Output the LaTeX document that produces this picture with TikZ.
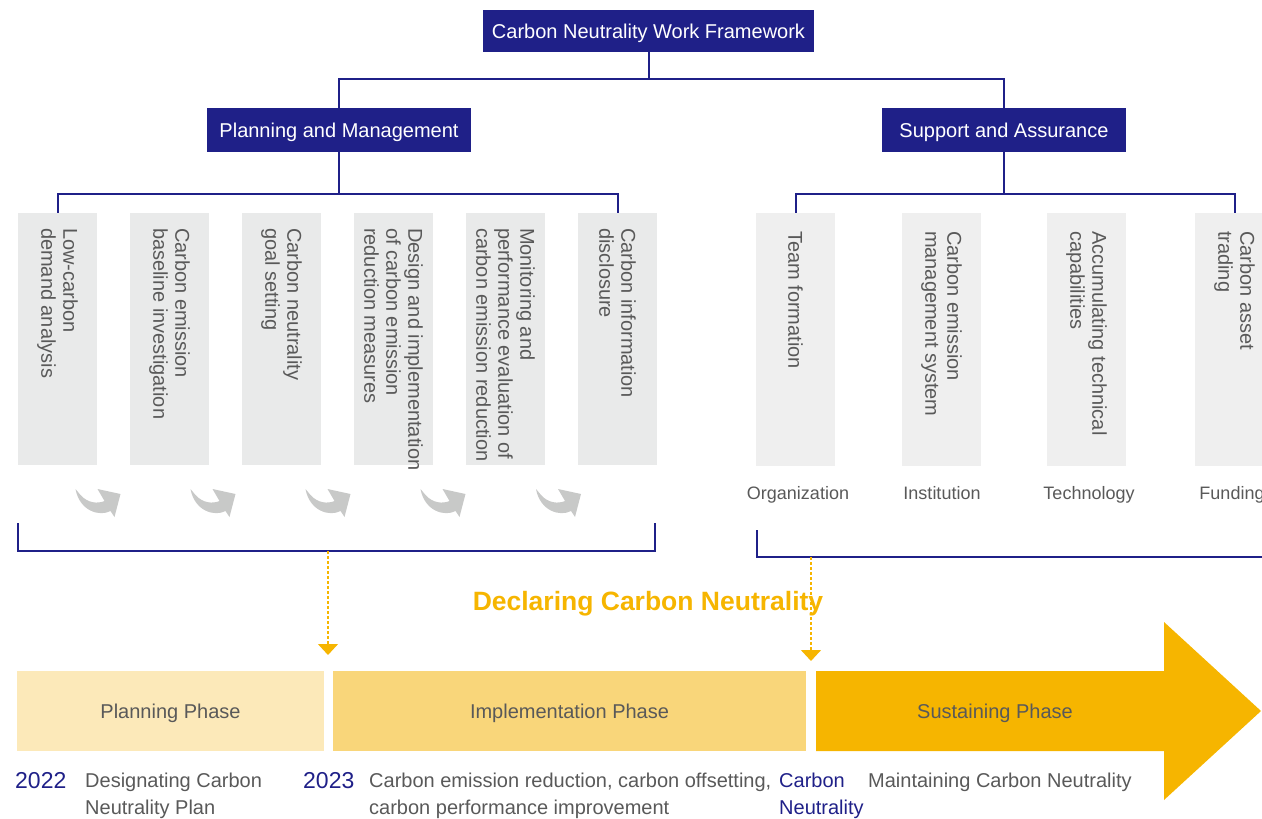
\documentclass[tikz,border=0pt]{standalone}
\usepackage{fontspec}
\setmainfont{Liberation Sans}
\usetikzlibrary{arrows.meta}

\definecolor{navy}{RGB}{31,32,136}
\definecolor{lboxgray}{RGB}{233,234,234}
\definecolor{rboxgray}{RGB}{239,239,239}
\definecolor{bendgray}{RGB}{200,201,200}
\definecolor{textgray}{RGB}{89,89,89}
\definecolor{phaseA}{RGB}{252,233,185}
\definecolor{phaseB}{RGB}{249,214,122}
\definecolor{phaseC}{RGB}{246,181,0}

\begin{document}
\begin{tikzpicture}[x=1pt, y=-1pt,
        headbox/.style={fill=navy, text=white, inner sep=0pt, text height=14.3pt, text depth=0pt, font=\fontsize{20}{24}\selectfont},
        lbox/.style={fill=lboxgray, minimum width=79pt, minimum height=252pt, inner sep=0pt},
        rbox/.style={fill=rboxgray, minimum width=79pt, minimum height=253pt, inner sep=0pt},
        vtext/.style={rotate=-90, anchor=west, align=left, inner sep=0pt, text=textgray, font=\fontsize{20}{22}\selectfont},
        lab/.style={anchor=base, text=textgray, inner sep=0pt, font=\fontsize{18}{22}\selectfont},
        phase/.style={minimum height=80pt, inner sep=0pt, text height=14.3pt, text depth=0pt, text=textgray, font=\fontsize{20}{24}\selectfont},
        yeartext/.style={anchor=base west, inner sep=0pt, text=navy, font=\fontsize{23}{27}\selectfont},
        desc/.style={anchor=north west, align=left, inner sep=0pt, text=textgray, font=\fontsize{20}{27}\selectfont},
        treeline/.style={draw=navy, line width=2pt},
        dashline/.style={draw=phaseC, line width=1.5pt, dash pattern=on 3pt off 2pt, -{Triangle[width=20pt,length=11pt]}}]
        \useasboundingbox (0,0) rectangle (1262,819);

        % framework tree
        \node[headbox, minimum width=331pt, minimum height=42pt] (top) at (648.5,31) {Carbon Neutrality Work Framework};
        \node[headbox, minimum width=264pt, minimum height=44pt] (pm) at (339,130) {Planning and Management};
        \node[headbox, minimum width=244pt, minimum height=44pt] (sa) at (1004,130) {Support and Assurance};

        \node[lbox] (b1) at (57.5,339) {};
        \node[lbox] (b2) at (169.5,339) {};
        \node[lbox] (b3) at (281.5,339) {};
        \node[lbox] (b4) at (393.5,339) {};
        \node[lbox] (b5) at (505.5,339) {};
        \node[lbox] (b6) at (617.5,339) {};
        \node[vtext] (t1) at ([yshift=-15pt]b1.north) {Low-carbon\\demand analysis};
        \node[vtext] (t2) at ([yshift=-15pt]b2.north) {Carbon emission\\baseline investigation};
        \node[vtext] (t3) at ([yshift=-15pt]b3.north) {Carbon neutrality\\goal setting};
        \node[vtext] (t4) at ([yshift=-15pt]b4.north) {Design and implementation\\of carbon emission\\reduction measures};
        \node[vtext] (t5) at ([yshift=-15pt]b5.north) {Monitoring and\\performance evaluation of\\carbon emission reduction};
        \node[vtext] (t6) at ([yshift=-15pt]b6.north) {Carbon information\\disclosure};

        \node[rbox] (r1) at (795.5,339.5) {};
        \node[rbox] (r2) at (941.5,339.5) {};
        \node[rbox] (r3) at (1086.5,339.5) {};
        \node[rbox] (r4) at (1234.5,339.5) {};
        \node[vtext] (s1) at ([yshift=-18pt]r1.north) {Team formation};
        \node[vtext] (s2) at ([yshift=-18pt]r2.north) {Carbon emission\\management system};
        \node[vtext] (s3) at ([yshift=-18pt]r3.north) {Accumulating technical\\capabilities};
        \node[vtext] (s4) at ([yshift=-18pt]r4.north) {Carbon asset\\trading};

        \node[lab] (l1) at (798,499) {Organization};
        \node[lab] (l2) at (942,499) {Institution};
        \node[lab] (l3) at (1089,499) {Technology};
        \node[lab] (l4) at (1232,499) {Funding};

        \draw[treeline] (top.south) -- ++(0,27) -| (pm.north);
        \draw[treeline] (top.south) -- ++(0,27) -| (sa.north);
        \draw[treeline] (pm.south) -- ++(0,42) -| (b1.north);
        \draw[treeline] (pm.south) -- ++(0,42) -| (b6.north);
        \draw[treeline] (sa.south) -- ++(0,42) -| (r1.north);
        \draw[treeline] (sa.south) -- ++(0,42) -| (r4.north);

        % step arrows between the planning boxes
        \foreach \ax in {75.5,190.5,305.5,420.5,536}
            \fill[bendgray, shift={(\ax,489)}] (0,0) -- (5,6) .. controls (12,14) and (22,15) .. (29,12)
                -- (22,0) -- (45,5) -- (39,28) -- (35,22) .. controls (24,28) and (4,22) .. (0,0) -- cycle;

        % brackets
        \coordinate (bl1) at (18,523);
        \coordinate (bl2) at (655,523);
        \coordinate (br1) at (757,530);
        \coordinate (br2) at (1275,557);
        \draw[treeline] (bl1) -- ++(0,28) -| (bl2);
        \draw[treeline] (br1) |- (br2);

        \node[font=\fontsize{26.5}{30}\selectfont\bfseries, text=phaseC, inner sep=0pt, anchor=base] (decl) at (648,610) {Declaring Carbon Neutrality};

        \coordinate (da1) at (328,551);
        \coordinate (da2) at (328,655);
        \coordinate (db1) at (811,557);
        \coordinate (db2) at (811,661);
        \draw[dashline] (da1) -- (da2);
        \draw[dashline] (db1) -- (db2);

        % timeline
        \node[phase, fill=phaseA, minimum width=307pt] (p1) at (170.5,711) {Planning Phase};
        \node[phase, fill=phaseB, minimum width=473pt] (p2) at (569.5,711) {Implementation Phase};
        \fill[phaseC] (816,671) -- (1164,671) -- (1164,622) -- (1261,711) -- (1164,800) -- (1164,751) -- (816,751) -- cycle;
        \node[phase] (p3) at (995,711) {Sustaining Phase};

        \node[yeartext] (y1) at (15,788) {2022};
        \node[desc] (d1) at (85,773) {Designating Carbon\\Neutrality Plan};
        \node[yeartext] (y2) at (303,788) {2023};
        \node[desc] (d2) at (369,773) {Carbon emission reduction, carbon offsetting,\\carbon performance improvement};
        \node[desc, text=navy] (y3) at (779,773) {Carbon\\Neutrality};
        \node[desc] (d3) at (868,773) {Maintaining Carbon Neutrality};
    \end{tikzpicture}
\end{document}
